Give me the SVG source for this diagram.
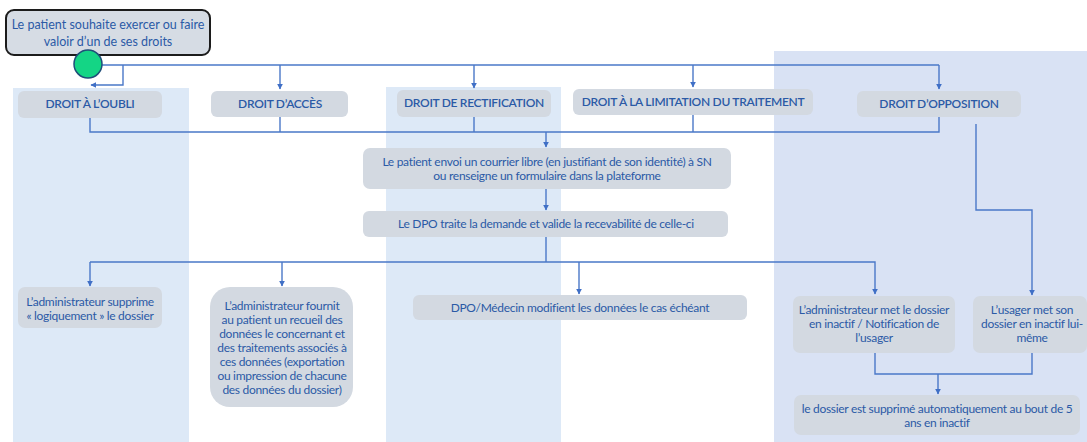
<svg xmlns="http://www.w3.org/2000/svg" width="1087" height="442" viewBox="0 0 1087 442">
  <defs>
    <style>
      .lane-a { fill: #dde9f7; }
      .lane-b { fill: #d9e2f4; }
      .box { fill: #d3d9e1; }
      .start { fill: #d6dce4; stroke: #1c1c1c; stroke-width: 2; }
      .title { font-family: Lato, "Open Sans", sans-serif; font-size: 12.5px; fill: #2b5aa6; text-anchor: middle; }
      .txt { font-family: Lato, "Open Sans", sans-serif; font-size: 12px; letter-spacing: -0.3px; fill: #2b5aa6; text-anchor: middle; }
      .hdr { font-family: Lato, "Open Sans", sans-serif; font-size: 12px; font-weight: 600; letter-spacing: -0.3px; fill: #2b5aa6; text-anchor: middle; }
      .wire { fill: none; stroke: #4a78c8; stroke-width: 1.4; }
    </style>
    <marker id="arrow" viewBox="0 0 10 10" refX="9" refY="5" markerWidth="6" markerHeight="6" orient="auto" markerUnits="userSpaceOnUse">
      <path d="M0,0 L10,5 L0,10 z" fill="#3f6fc6"/>
    </marker>
  </defs>

  <!-- swimlane backgrounds -->
  <g id="lanes">
    <rect class="lane-a" x="13" y="88" width="176" height="354"/>
    <rect class="lane-a" x="386" y="87" width="175" height="355"/>
    <rect class="lane-b" x="774" y="51" width="313" height="391"/>
  </g>

  <!-- connectors -->
  <g id="connectors">
    <path class="wire" d="M102,65 H939"/>
    <path class="wire" d="M123,65 V85 H91" marker-end="url(#arrow)"/>
    <path class="wire" d="M280,65 V89" marker-end="url(#arrow)"/>
    <path class="wire" d="M474,65 V88" marker-end="url(#arrow)"/>
    <path class="wire" d="M693,65 V87" marker-end="url(#arrow)"/>
    <path class="wire" d="M939,65 V89" marker-end="url(#arrow)"/>

    <path class="wire" d="M90,118 V132 H939 V117"/>
    <path class="wire" d="M280,117 V132"/>
    <path class="wire" d="M474,117 V132"/>
    <path class="wire" d="M693,115 V132"/>
    <path class="wire" d="M546,132 V147" marker-end="url(#arrow)"/>

    <path class="wire" d="M546,189 V210" marker-end="url(#arrow)"/>

    <path class="wire" d="M546,237 V262"/>
    <path class="wire" d="M90,262 H875 V294" marker-end="url(#arrow)"/>
    <path class="wire" d="M90,262 V286" marker-end="url(#arrow)"/>
    <path class="wire" d="M282,262 V286" marker-end="url(#arrow)"/>
    <path class="wire" d="M579,262 V294" marker-end="url(#arrow)"/>

    <path class="wire" d="M976,124 V210 H1032 V295" marker-end="url(#arrow)"/>

    <path class="wire" d="M875,353 V374 H1032 V353"/>
    <path class="wire" d="M938,374 V394" marker-end="url(#arrow)"/>
  </g>

  <!-- start node -->
  <g id="start">
    <rect class="start" x="6" y="10" width="204" height="45" rx="8"/>
    <text class="title" x="108" y="29">Le patient souhaite exercer ou faire</text>
    <text class="title" x="108" y="46">valoir d’un de ses droits</text>
    <circle cx="88" cy="64" r="14" fill="#14d585" stroke="#1f4e79" stroke-width="1.5"/>
  </g>

  <!-- rights -->
  <g id="droit-oubli">
    <rect class="box" x="18" y="91" width="144" height="27" rx="6"/>
    <text class="hdr" x="90" y="108">DROIT À L’OUBLI</text>
  </g>
  <g id="droit-acces">
    <rect class="box" x="211" y="91" width="137" height="26" rx="6"/>
    <text class="hdr" x="280" y="108">DROIT D’ACCÈS</text>
  </g>
  <g id="droit-rectification">
    <rect class="box" x="397" y="90" width="154" height="27" rx="6"/>
    <text class="hdr" x="474" y="107">DROIT DE RECTIFICATION</text>
  </g>
  <g id="droit-limitation">
    <rect class="box" x="573" y="89" width="240" height="26" rx="6"/>
    <text class="hdr" x="693" y="106">DROIT À LA LIMITATION DU TRAITEMENT</text>
  </g>
  <g id="droit-opposition">
    <rect class="box" x="857" y="91" width="164" height="26" rx="6"/>
    <text class="hdr" x="939" y="108">DROIT D’OPPOSITION</text>
  </g>

  <!-- common steps -->
  <g id="courrier">
    <rect class="box" x="363" y="148" width="368" height="41" rx="7"/>
    <text class="txt" x="547" y="166">Le patient envoi un courrier libre (en justifiant de son identité) à SN</text>
    <text class="txt" x="547" y="180">ou renseigne un formulaire dans la plateforme</text>
  </g>
  <g id="dpo-traite">
    <rect class="box" x="363" y="211" width="365" height="26" rx="6"/>
    <text class="txt" x="546" y="228">Le DPO traite la demande et valide la recevabilité de celle-ci</text>
  </g>

  <!-- outcomes -->
  <g id="suppression-logique">
    <rect class="box" x="18" y="287" width="144" height="41" rx="7"/>
    <text class="txt" x="90" y="306">L’administrateur supprime</text>
    <text class="txt" x="90" y="320">« logiquement » le dossier</text>
  </g>
  <g id="recueil">
    <rect class="box" x="210" y="287" width="143" height="120" rx="20"/>
    <text class="txt" x="282" y="310">L’administrateur fournit</text>
    <text class="txt" x="282" y="324">au patient un recueil des</text>
    <text class="txt" x="282" y="338">données le concernant et</text>
    <text class="txt" x="282" y="352">des traitements associés à</text>
    <text class="txt" x="282" y="366">ces données (exportation</text>
    <text class="txt" x="282" y="380">ou impression de chacune</text>
    <text class="txt" x="282" y="394">des données du dossier)</text>
  </g>
  <g id="modification">
    <rect class="box" x="413" y="295" width="334" height="25" rx="6"/>
    <text class="txt" x="580" y="312">DPO/Médecin modifient les données le cas échéant</text>
  </g>
  <g id="inactif-admin">
    <rect class="box" x="793" y="296" width="162" height="57" rx="7"/>
    <text class="txt" x="874" y="314">L’administrateur met le dossier</text>
    <text class="txt" x="874" y="328">en inactif / Notification de</text>
    <text class="txt" x="874" y="342">l’usager</text>
  </g>
  <g id="inactif-usager">
    <rect class="box" x="973" y="296" width="114" height="57" rx="7"/>
    <text class="txt" x="1032" y="314">L’usager met son</text>
    <text class="txt" x="1032" y="328">dossier en inactif lui-</text>
    <text class="txt" x="1032" y="342">même</text>
  </g>
  <g id="suppression-auto">
    <rect class="box" x="794" y="395" width="286" height="40" rx="7"/>
    <text class="txt" x="937" y="413">le dossier est supprimé automatiquement au bout de 5</text>
    <text class="txt" x="937" y="427">ans en inactif</text>
  </g>
</svg>
